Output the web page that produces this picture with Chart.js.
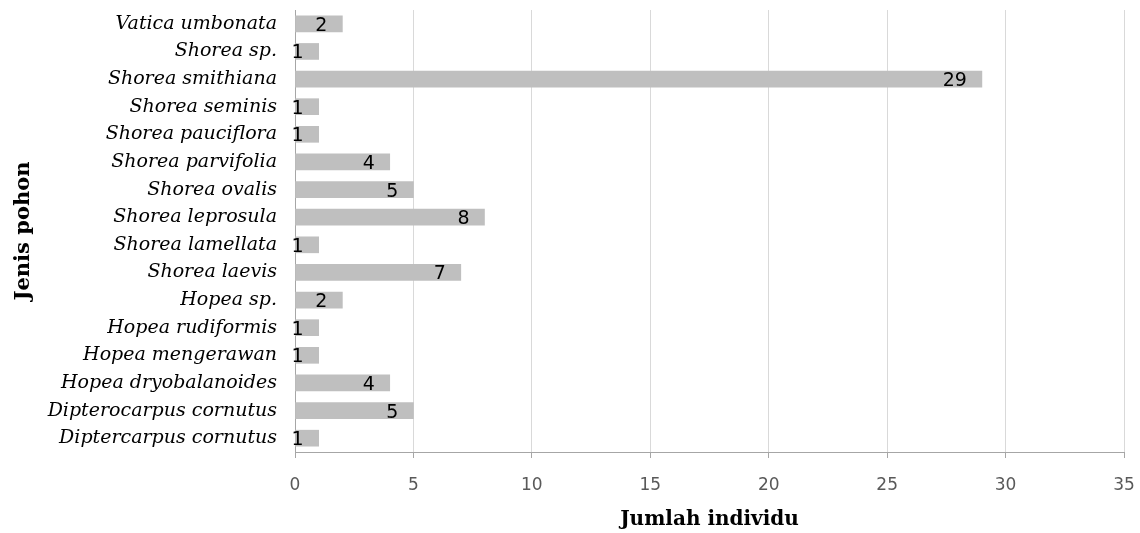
<!DOCTYPE html>
<html>
<head>
<meta charset="utf-8">
<script src="https://cdn.jsdelivr.net/npm/chart.js@4"></script>
<style>
html,body{margin:0;padding:0;background:#fff;}
#wrap{width:1140px;height:533px;position:relative;}
</style>
</head>
<body>
<div id="wrap"><canvas id="c" width="1140" height="533"></canvas></div>
<script>
const categories = ["Vatica umbonata","Shorea sp.","Shorea smithiana","Shorea seminis","Shorea pauciflora","Shorea parvifolia","Shorea ovalis","Shorea leprosula","Shorea lamellata","Shorea laevis","Hopea sp.","Hopea rudiformis","Hopea mengerawan","Hopea dryobalanoides","Dipterocarpus cornutus","Diptercarpus cornutus"];
const values = [2,1,29,1,1,4,5,8,1,7,2,1,1,4,5,1];
const xTicks = [0,5,10,15,20,25,30,35];
const xTitle = "Jumlah individu";
const yTitle = "Jenis pohon";

const labelPlugin = {
  id: 'valLabels',
  afterDatasetsDraw(chart) {
    const ctx = chart.ctx;
    const meta = chart.getDatasetMeta(0);
    ctx.save();
    ctx.font = '19px "DejaVu Sans"';
    ctx.fillStyle = '#000';
    ctx.textAlign = 'right';
    ctx.textBaseline = 'middle';
    meta.data.forEach((bar, i) => {
      ctx.fillText(String(values[i]), bar.x - 15, bar.y + 2);
    });
    ctx.restore();
  }
};

new Chart(document.getElementById('c'), {
  type: 'bar',
  data: {
    labels: categories,
    datasets: [{ data: values, backgroundColor: '#bfbfbf', barThickness: 16 }]
  },
  options: {
    indexAxis: 'y',
    responsive: false,
    animation: false,
    devicePixelRatio: 1,
    layout: { padding: { top: 10, right: 16, left: 0, bottom: 0 } },
    plugins: { legend: { display: false }, tooltip: { enabled: false } },
    scales: {
      x: {
        min: 0, max: 35,
        afterBuildTicks(scale) { scale.ticks = xTicks.map(v => ({ value: v })); },
        afterFit(scale) { scale.height = 81; scale.paddingLeft = 0; scale.paddingRight = 0; },
        grid: { color: '#d9d9d9', tickColor: '#a6a6a6', tickLength: 6, drawOnChartArea: true },
        border: { color: '#a6a6a6', width: 1 },
        ticks: { color: '#595959', font: { family: '"DejaVu Sans"', size: 17 }, padding: 17 },
        title: { display: true, text: xTitle, color: '#000', font: { family: '"DejaVu Serif"', size: 20, weight: 'bold' }, padding: { top: 0, bottom: 1 } }
      },
      y: {
        afterFit(scale) { scale.width = 295; scale.paddingTop = 0; scale.paddingBottom = 0; },
        grid: { display: false, drawTicks: false },
        border: { color: '#a6a6a6', width: 1 },
        ticks: { color: '#000', font: { family: '"DejaVu Serif"', size: 19, style: 'italic' }, padding: 18, autoSkip: false },
        title: { display: true, text: yTitle, color: '#000', font: { family: '"DejaVu Serif"', size: 21, weight: 'bold' }, padding: { top: 11, bottom: 0 } }
      }
    }
  },
  plugins: [labelPlugin]
});
</script>
</body>
</html>
